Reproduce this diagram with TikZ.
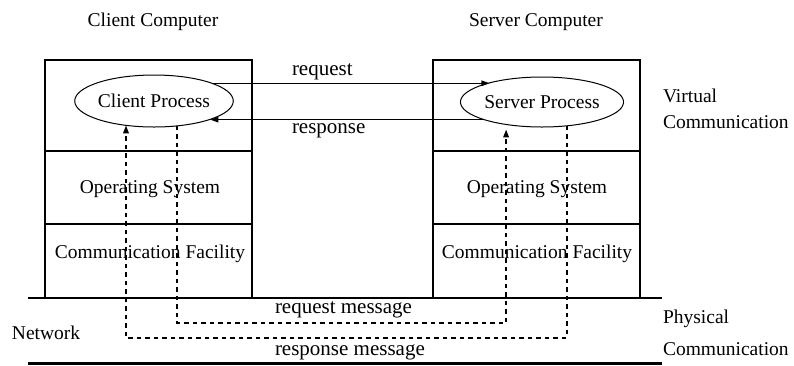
\documentclass[tikz,border=0pt]{standalone}
\usepackage{fontspec}
\setmainfont{Liberation Serif}
\usetikzlibrary{shapes.geometric,arrows.meta}
\begin{document}
\begin{tikzpicture}[x=1pt,y=-1pt,
  every node/.style={font=\fontsize{19.5}{22}\selectfont, inner sep=0pt, outer sep=0pt},
  bigtxt/.style={font=\fontsize{21}{24}\selectfont},
  layer/.style={draw, line width=1.3pt, minimum width=207pt, anchor=north west},
  proc/.style={ellipse, draw, line width=1pt},
  txt/.style={anchor=base},
  ltxt/.style={anchor=base west},
  msg/.style={line width=1.3pt},
  tip/.style={-{Triangle[length=8pt,width=5.5pt]}},
  dsh/.style={line width=1.8pt, dash pattern=on 4.5pt off 4pt},
  net/.style={line width=2.5pt},
]
\useasboundingbox (0,0) rectangle (794,365);

% headings
\node[txt] (ch) at (153,26) {Client Computer};
\node[txt] (sh) at (536,26) {Server Computer};

% client stack
\node[layer, minimum height=91pt] (c1) at (45,60) {};
\node[layer, minimum height=73pt] (c2) at (c1.south west) {};
\node[layer, minimum height=74pt] (c3) at (c2.south west) {};
% server stack
\node[layer, minimum height=91pt] (s1) at (433,60) {};
\node[layer, minimum height=73pt] (s2) at (s1.south west) {};
\node[layer, minimum height=74pt] (s3) at (s2.south west) {};

\node[txt] (cos) at (150,193) {Operating System};
\node[txt] (sos) at (537,193) {Operating System};
\node[txt] (ccf) at (150,258) {Communication Facility};
\node[txt] (scf) at (537,258) {Communication Facility};

% processes
\node[proc, minimum width=135pt, minimum height=52pt] (cp) at (154,101) {Client Process};
\node[proc, minimum width=132pt, minimum height=50pt] (sp) at (542,102) {Server Process};

% virtual communication
\draw[msg,tip] (cp.17) -- (cp.17 -| sp.160);
\draw[msg,tip] (sp.197) -- (sp.197 -| cp.342);
\node[ltxt,bigtxt] (rq) at (292,75) {request};
\node[ltxt,bigtxt] (rs) at (292,133) {response};

% network
\coordinate (nl) at (28,298);
\coordinate (nr) at (662,298);
\coordinate (bl) at (28,363.5);
\coordinate (br) at (662,363.5);
\draw[net] (nl) -- (nr);
\draw[net] (bl) -- (br);

% physical messages
\coordinate (rqy) at (0,323);
\coordinate (rsy) at (0,338);
\draw[dsh,tip,shorten >=5pt] (cp.313) -- (cp.313 |- rqy) -| (sp.212);
\draw[dsh,tip] (sp.316) -- (sp.316 |- rsy) -| (cp.221);
\node[ltxt,bigtxt] (rqm) at (275,313) {request message};
\node[ltxt,bigtxt] (rsm) at (275,355) {response message};

% side labels
\node[ltxt] (nw) at (12,339) {Network};
\node[ltxt] (v1) at (663,102) {Virtual};
\node[ltxt] (v2) at (663,128) {Communication};
\node[ltxt] (p1) at (663,323) {Physical};
\node[ltxt] (p2) at (663,355) {Communication};
\end{tikzpicture}
\end{document}
